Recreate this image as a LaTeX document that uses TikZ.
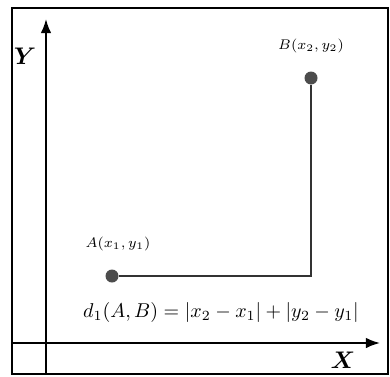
\documentclass[tikz,border=0pt]{standalone}
\usepackage{amsmath}
\usepackage{amssymb}
\usepackage{bm}
\usepackage{tikz}
\usetikzlibrary{arrows.meta, positioning}

\begin{document}
\begin{tikzpicture}[x=0.5pt, y=0.5pt, >=Latex]
  \tikzstyle{pt}=[circle, fill=black!70, inner sep=0pt, minimum size=6.5pt]
  \tikzstyle{axis}=[->, line width=0.9pt]
  \tikzstyle{path1}=[line width=1.1pt, color=black!80]
  \tikzstyle{lbl}=[font=\scriptsize, inner sep=1pt]
  \useasboundingbox (0,0) rectangle (390,376);
  \draw[line width=1.1pt] (12,2) rectangle (388,368);
  \coordinate (YS) at (46,2);
  \coordinate (YE) at (46,357);
  \coordinate (XS) at (12,33);
  \coordinate (XE) at (380,33);
  \draw[axis](YS)--(YE);
  \draw[axis](XS)--(XE);
  \node[font=\large](Y) at (25,320){$\bm{Y}$};
  \node[font=\large](X) at (343,16){$\bm{X}$};
  \node[pt](A) at (112,100){};
  \node[pt](B) at (311,298){};
  \coordinate (C) at (311,100);
  \draw[path1](A)--(C)--(B);
  \node[lbl, above=8pt of A, xshift=3pt](LA){$A(x_1,y_1)$};
  \node[lbl, above=8pt of B](LB){$B(x_2,y_2)$};
  \node[font=\normalsize](D) at (221,64){$d_1(A,B) = |x_2 - x_1| + |y_2 - y_1|$};
\end{tikzpicture}
\end{document}
